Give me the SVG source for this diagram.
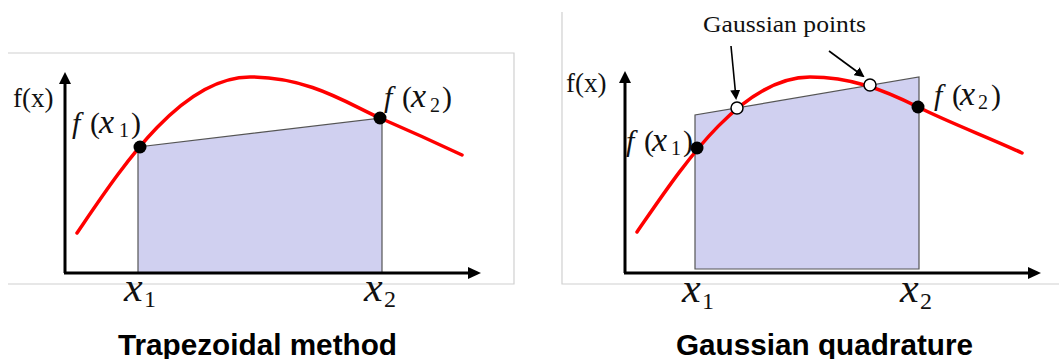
<svg xmlns="http://www.w3.org/2000/svg" width="1059" height="359" viewBox="0 0 1059 359">
<defs>
<style>
.frame{stroke:#d0d0d0;stroke-width:1.2;fill:none}
.axis{stroke:#000;stroke-width:3;fill:none}
.area{fill:#d0d0f0;stroke:#555;stroke-width:1.2}
.curve{stroke:#f00;stroke-width:3.5;fill:none;stroke-linecap:round}
.dot{fill:#000}
.gdot{fill:#fff;stroke:#000;stroke-width:1.5}
.ptr{stroke:#000;stroke-width:1.6;fill:none}
.lbl{font-family:"Liberation Serif","Times New Roman",serif;fill:#111}
.math{font-family:"Liberation Serif","Times New Roman",serif;fill:#111;font-size:30px}
.it{font-style:italic}
.mx{font-size:34px}
.sub{font-size:20px}
.big{font-size:42px}
.bsub{font-size:24px}
.title{font-family:"Liberation Sans",Arial,sans-serif;font-weight:bold;font-size:29px;fill:#000}
</style>
<marker id="ah" markerWidth="10" markerHeight="10" refX="8" refY="5" orient="auto" markerUnits="userSpaceOnUse">
<path d="M0,0 L10,5 L0,10 Z" fill="#000"/>
</marker>
</defs>
<rect width="1059" height="359" fill="#fff"/>

<g id="left-panel">
<path class="frame" d="M8,53 H514 V284 H8"/>
<polygon class="area" points="138,273 138,147 382,118 382,273"/>
<path class="axis" d="M65,273 V82"/>
<path d="M59,84 L65,72 L71,84 Z" fill="#000"/>
<path class="axis" d="M64,273 H470"/>
<path d="M468,267 L481,273 L468,279 Z" fill="#000"/>
<path class="curve" d="M77,233 C120,170 180,77 250,77 C310,77 350,105 380,118 S430,140 462,155"/>
<circle class="dot" cx="140" cy="147" r="6.5"/>
<circle class="dot" cx="380" cy="118" r="6.5"/>
<text class="lbl" x="13" y="107" font-size="27">f(x)</text>
<text class="math" y="133"><tspan class="it" x="72">f</tspan><tspan x="90">(</tspan><tspan class="it mx" x="99">x</tspan><tspan class="sub" x="119" y="137">1</tspan><tspan x="131" y="133">)</tspan></text>
<text class="math" y="107"><tspan class="it" x="384">f</tspan><tspan x="402">(</tspan><tspan class="it mx" x="411">x</tspan><tspan class="sub" x="430" y="112">2</tspan><tspan x="442" y="107">)</tspan></text>
<text class="math big" y="301"><tspan class="it" x="124">x</tspan><tspan class="bsub" x="144" y="307">1</tspan></text>
<text class="math big" y="301"><tspan class="it" x="364">x</tspan><tspan class="bsub" x="384" y="307">2</tspan></text>
<text class="title" x="118" y="355" textLength="279" lengthAdjust="spacingAndGlyphs">Trapezoidal method</text>
</g>

<g id="right-panel">
<path class="frame" d="M562,12 V284 H1059"/>
<polygon class="area" points="695,269 695,115 919,77 919,269"/>
<path class="axis" d="M625,273 V81"/>
<path d="M619,83 L625,71 L631,83 Z" fill="#000"/>
<path class="axis" d="M624,273 H1030"/>
<path d="M1028,267 L1041,273 L1028,279 Z" fill="#000"/>
<path class="curve" d="M637,232 C680,170 740,77 810,77 C850,77 882,89 918,107 C950,123 990,138 1022,153"/>
<circle class="dot" cx="697" cy="148" r="6.5"/>
<circle class="dot" cx="918" cy="107" r="6.5"/>
<circle class="gdot" cx="737" cy="108" r="6"/>
<circle class="gdot" cx="870" cy="85" r="6"/>
<text class="lbl" x="566" y="92" font-size="27">f(x)</text>
<text class="lbl" x="703" y="32" font-size="24" textLength="163" lengthAdjust="spacingAndGlyphs">Gaussian points</text>
<text class="math" y="151"><tspan class="it" x="626">f</tspan><tspan x="644">(</tspan><tspan class="it mx" x="652">x</tspan><tspan class="sub" x="671" y="155">1</tspan><tspan x="683" y="151">)</tspan></text>
<text class="math" y="105"><tspan class="it" x="934">f</tspan><tspan x="952">(</tspan><tspan class="it mx" x="960">x</tspan><tspan class="sub" x="978" y="109">2</tspan><tspan x="991" y="105">)</tspan></text>
<text class="math big" y="302"><tspan class="it" x="682">x</tspan><tspan class="bsub" x="702" y="309">1</tspan></text>
<text class="math big" y="302"><tspan class="it" x="900">x</tspan><tspan class="bsub" x="920" y="309">2</tspan></text>
<text class="title" x="676" y="355" textLength="297" lengthAdjust="spacingAndGlyphs">Gaussian quadrature</text>
</g>

<g id="connectors">
<line class="ptr" x1="731" y1="46" x2="736" y2="98" marker-end="url(#ah)"/>
<line class="ptr" x1="829" y1="51" x2="863" y2="76" marker-end="url(#ah)"/>
</g>
</svg>
